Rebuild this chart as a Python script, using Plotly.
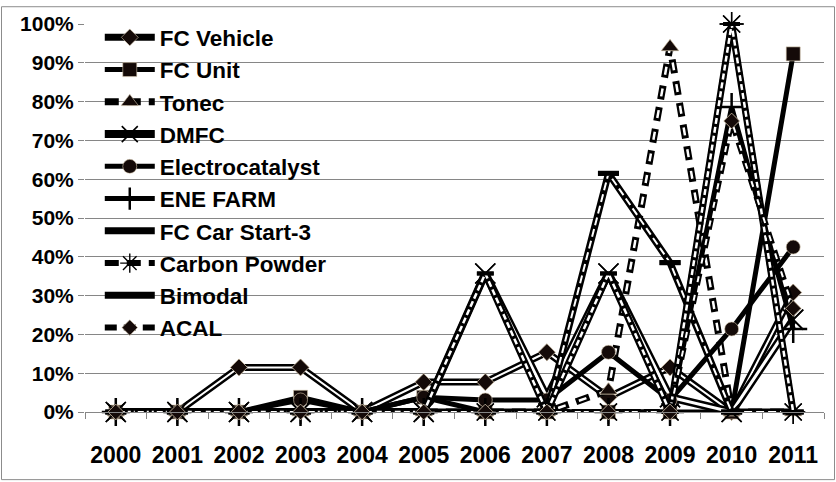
import plotly.graph_objects as go

years = ["2000", "2001", "2002", "2003", "2004", "2005", "2006", "2007", "2008", "2009", "2010", "2011"]
fc_vehicle = [0, 0, 11.5, 11.5, 0, 7.7, 7.7, 15.4, 3.8, 11.5, 0, 30.8]
fc_unit = [0, 0, 0, 3.8, 0, 3.8, 0, 0, 0, 0, 0, 92.3]
tonec = [0, 0, 0, 0, 0, 0, 0, 0, 5.6, 94.1, 0, 0]
dmfc = [0, 0, 0, 0, 0, 0, 35.7, 3.8, 35.7, 3.8, 0, 23.8]
electrocatalyst = [0, 0, 0, 3.1, 0, 3.8, 3.1, 3.1, 15.4, 3.1, 21.4, 42.5]
ene_farm = [0, 0, 0, 0, 0, 0, 0, 0, 0, 0, 78.6, 21.4]
fc_car_start3 = [0, 0, 0, 0, 0, 0, 0, 0, 61.5, 38.5, 0, 0]
carbon_powder = [0, 0, 0, 0, 0, 0, 0, 0, 0, 0, 100, 0]
bimodal = [0, 0, 0, 0, 0, 0, 35.7, 0, 35.7, 0, 100, 0]
acal = [0, 0, 0, 0, 0, 0, 0, 0, 0, 0, 75.0, 26.7]

BLK = "#000000"
MK = "#140a08"

# name, values, black width, black dash, inner white width, inner dash, marker symbol, marker size, marker line width
series = [
    ("FC Vehicle", fc_vehicle, 7, "solid", 2, "solid", "diamond", 13, 1),
    ("FC Unit", fc_unit, 5, "solid", 0, None, "square", 14, 1),
    ("Tonec", tonec, 7, "14px,8px", 2.5, "0px,3px,8px,11px", "triangle-up", 15, 1),
    ("DMFC", dmfc, 8, "solid", 3, "solid", "x-thin", 20, 1.6),
    ("Electrocatalyst", electrocatalyst, 5, "solid", 0, None, "circle", 14, 1),
    ("ENE FARM", ene_farm, 5, "solid", 0, None, "cross-thin", 20, 2.5),
    ("FC Car Start-3", fc_car_start3, 7, "solid", 2, "8px,4px", "line-ew", 15, 5),
    ("Carbon Powder", carbon_powder, 6, "14px,8px", 2, "0px,3px,8px,11px", "asterisk", 20, 1.4),
    ("Bimodal", bimodal, 7, "solid", 2.5, "6px,3px", "line-ew", 12, 4),
    ("ACAL", acal, 6, "12px,7px", 2, "0px,3px,6px,10px", "diamond", 12, 1),
]

fig = go.Figure()
for name, vals, bw, bdash, iw, idash, sym, msz, mlw in series:
    thin = sym in ("x-thin", "cross-thin", "asterisk", "line-ew")
    mk = dict(symbol=sym, size=msz, color=MK,
              line=dict(color=BLK if thin else "#d9c9b0", width=mlw if thin else 0.6))
    fig.add_trace(go.Scatter(
        x=years, y=vals, name=name, legendgroup=name, mode="lines+markers",
        line=dict(color=BLK, width=bw, dash=bdash), marker=mk, cliponaxis=False))
    if iw:
        fig.add_trace(go.Scatter(
            x=years, y=vals, legendgroup=name, showlegend=False, mode="lines",
            line=dict(color="#ffffff", width=iw, dash=idash), hoverinfo="skip", cliponaxis=False))
        fig.add_trace(go.Scatter(
            x=years, y=vals, legendgroup=name, showlegend=False, mode="markers",
            marker=mk, hoverinfo="skip", cliponaxis=False))

fig.update_layout(
    width=836, height=482,
    margin=dict(l=85, r=12, t=19, b=70),
    paper_bgcolor="white", plot_bgcolor="white",
    showlegend=True,
    legend=dict(x=0.02, y=1.02, xanchor="left", yanchor="top",
                bgcolor="rgba(0,0,0,0)", traceorder="grouped", tracegroupgap=0,
                font=dict(family="Liberation Sans", size=22.5, color="black", weight="bold"),
                itemwidth=50, maxheight=470),
    font=dict(family="Liberation Sans", color="black"),
)
fig.update_xaxes(type="category", range=[-0.5, 11.5], showgrid=False,
                 showline=True, linecolor="#868686", linewidth=1,
                 ticks="outside", tickson="boundaries", ticklen=6, tickcolor="#868686",
                 tickfont=dict(family="Liberation Sans", size=23, color="black", weight="bold"),
                 ticklabelstandoff=22)
fig.update_yaxes(range=[0, 100], dtick=10, ticksuffix="%", showgrid=True,
                 gridcolor="#868686", gridwidth=1, zeroline=False, showline=False,
                 ticks="outside", ticklen=6, tickcolor="#868686",
                 tickfont=dict(family="Liberation Sans", size=21, color="black", weight="bold"),
                 ticklabelstandoff=0)
fig.add_shape(type="rect", xref="paper", yref="paper",
              x0=(1.5 - 85) / 739, x1=(834.5 - 85) / 739,
              y0=(412 - 480.5) / 393, y1=(412 - 1.5) / 393,
              line=dict(color="#8c8c8c", width=1), fillcolor="rgba(0,0,0,0)", layer="below")

fig.write_html("out.html")
